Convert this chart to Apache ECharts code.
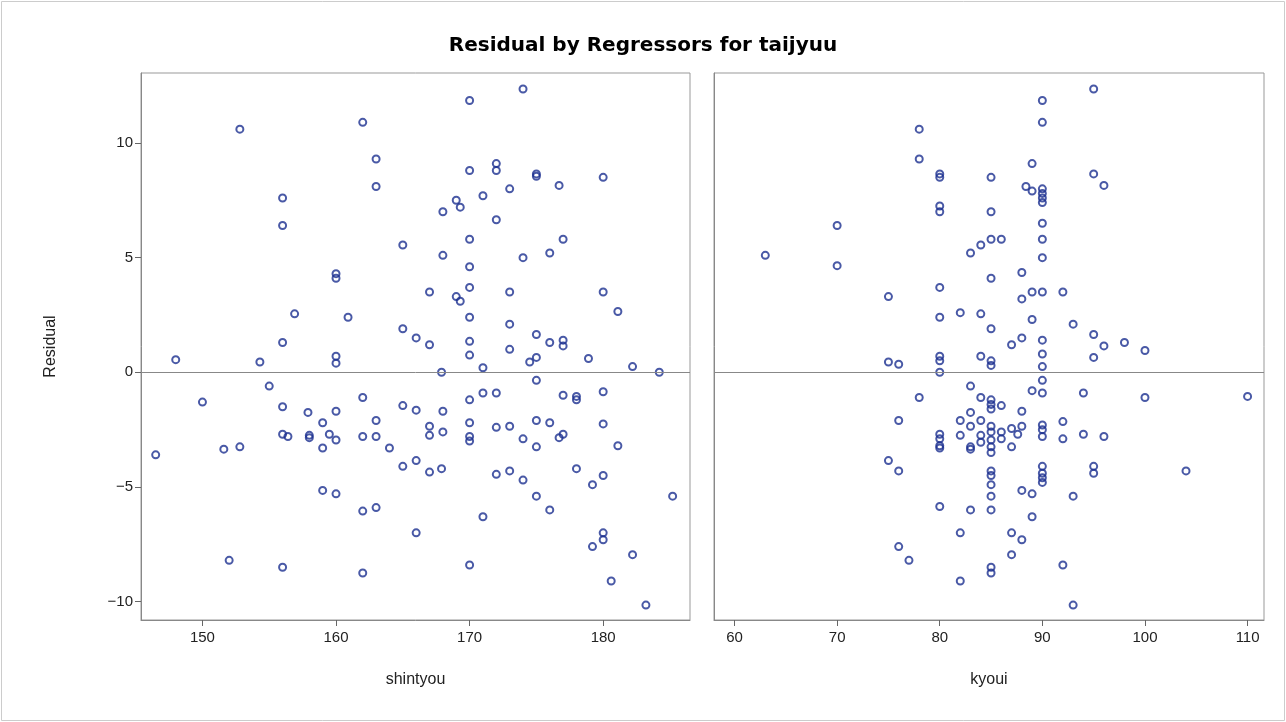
<!DOCTYPE html>
<html><head><meta charset="utf-8">
<script src="https://cdn.jsdelivr.net/npm/echarts@6/dist/echarts.min.js"></script>
<style>html,body{margin:0;padding:0;background:#fff}#c{width:1286px;height:722px}</style>
</head><body><div id="c"></div>
<script>
const xTicksLeft=[150,160,170,180];
const xTicksRight=[60,70,80,90,100,110];
const yTicks=[-10,-5,0,5,10];
const shintyou=[
[146.5,-3.6],[148,0.55],[150,-1.3],[151.6,-3.35],[152,-8.2],[152.8,-3.25],[152.8,10.6],[154.3,0.45],[155,-0.6],
[156,7.6],[156,6.4],[156,1.3],[156,-1.5],[156,-2.7],[156,-8.5],[156.4,-2.8],[156.9,2.55],[157.9,-1.75],[158,-2.75],[158,-2.85],
[159,-2.2],[159,-3.3],[159,-5.15],[159.5,-2.7],[160,4.3],[160,4.1],[160,0.7],[160,0.4],[160,-1.7],[160,-2.95],[160,-5.3],[160.9,2.4],
[162,10.9],[162,-1.1],[162,-2.8],[162,-6.05],[162,-8.75],[163,9.3],[163,8.1],[163,-2.1],[163,-2.8],[163,-5.9],[164,-3.3],
[165,1.9],[165,5.55],[165,-1.45],[165,-4.1],[166,1.5],[166,-1.65],[166,-3.85],[166,-7.0],
[167,3.5],[167,1.2],[167,-2.35],[167,-2.75],[167,-4.35],[167.9,-4.2],[167.9,0.0],[168,-2.6],[168,-1.7],[168,5.1],[168,7.0],
[169,7.5],[169.3,7.2],[169,3.3],[169.3,3.1],
[170,11.85],[170,8.8],[170,5.8],[170,4.6],[170,3.7],[170,2.4],[170,1.35],[170,0.75],[170,-1.2],[170,-2.2],[170,-2.8],[170,-3.0],[170,-8.4],
[171,0.2],[171,7.7],[171,-6.3],[171,-0.9],[172,6.65],[172,9.1],[172,8.8],[172,-0.9],[172,-2.4],[172,-4.45],
[173,8.0],[173,3.5],[173,2.1],[173,1.0],[173,-2.35],[173,-4.3],[174,12.35],[174,5.0],[174,-2.9],[174,-4.7],[174.5,0.45],
[175,8.65],[175,8.55],[175,1.65],[175,0.65],[175,-0.35],[175,-2.1],[175,-3.25],[175,-5.4],
[176,5.2],[176,1.3],[176,-2.2],[176,-6.0],[176.7,8.15],[176.7,-2.85],[177,5.8],[177,1.4],[177,1.15],[177,-2.7],[177,-1.0],
[178,-1.05],[178,-1.2],[178,-4.2],[178.9,0.6],[179.2,-4.9],[179.2,-7.6],
[180,8.5],[180,3.5],[180,-0.85],[180,-2.25],[180,-4.5],[180,-7.0],[180,-7.3],[180.6,-9.1],[181.1,2.65],[181.1,-3.2],
[182.2,0.25],[182.2,-7.95],[183.2,-10.15],[184.2,0.0],[185.2,-5.4]
];
const kyoui=[
[63,5.1],[70,6.4],[70,4.65],[75,3.3],[75,0.45],[75,-3.85],[76,0.35],[76,-2.1],[76,-4.3],[76,-7.6],[77,-8.2],
[78,10.6],[78,9.3],[78,-1.1],
[80,8.65],[80,8.5],[80,7.25],[80,7.0],[80,3.7],[80,2.4],[80,0.7],[80,0.5],[80,0],[80,-2.7],[80,-2.9],[80,-3.2],[80,-3.3],[80,-5.85],
[82,-9.1],[82,-7.0],[82,-2.75],[82,-2.1],[82,2.6],
[83,5.2],[83,-0.6],[83,-3.25],[83,-3.35],[83,-6.0],[83,-1.75],[83,-2.35],
[84,5.55],[84,2.55],[84,0.7],[84,-1.1],[84,-2.1],[84,-2.75],[84,-3.05],
[85,7.0],[85,8.5],[85,5.8],[85,4.1],[85,1.9],[85,0.5],[85,0.3],[85,-1.2],[85,-1.4],[85,-1.6],[85,-2.35],[85,-2.6],[85,-2.95],[85,-3.25],[85,-3.5],[85,-4.3],[85,-4.5],[85,-4.9],[85,-5.4],[85,-6.0],[85,-8.5],[85,-8.75],
[86,5.8],[86,-1.45],[86,-2.6],[86,-2.9],
[87,1.2],[87,-2.45],[87,-3.25],[87,-7.0],[87,-7.95],
[88,4.35],[88,3.2],[88,1.5],[88,-1.7],[88,-2.35],[88,-5.15],[88,-7.3],[87.6,-2.7],
[89,9.1],[89,2.3],[89,-0.8],[89,-5.3],[89,-6.3],[88.4,8.1],[89,7.9],[89,3.5],
[90,11.85],[90,10.9],[90,8.0],[90,7.8],[90,7.6],[90,7.4],[90,6.5],[90,5.8],[90,5.0],[90,3.5],[90,1.4],[90,0.8],[90,0.25],[90,-0.35],[90,-0.9],[90,-2.3],[90,-2.5],[90,-2.8],[90,-4.1],[90,-4.4],[90,-4.6],[90,-4.8],
[92,3.5],[92,-2.15],[92,-2.9],[92,-8.4],[93,2.1],[93,-5.4],[93,-10.15],[94,-0.9],[94,-2.7],
[95,12.35],[95,8.65],[95,1.65],[95,0.65],[95,-4.1],[95,-4.4],[96,8.15],[96,1.15],[96,-2.8],
[98,1.3],[100,0.95],[100,-1.1],[104,-4.3],[110,-1.05]
];
const fmt=v=>String(v).replace('-','\u2212');
const font='"Liberation Sans", Arial, sans-serif';
const axLab={color:'#222',fontSize:15,fontFamily:font};
const mk={type:'scatter',symbol:'circle',symbolSize:7,itemStyle:{color:'rgba(0,0,0,0)',borderColor:'#1c3090',borderWidth:2},
  markLine:{silent:true,symbol:'none',label:{show:false},lineStyle:{color:'#888',type:'solid',width:1},data:[{yAxis:0}]}};
const yBase={type:'value',min:-10.8,max:13.05,splitLine:{show:false},
  axisLine:{show:true,onZero:false,lineStyle:{color:'#888'}},
  axisTick:{show:true,length:6,lineStyle:{color:'#666'},customValues:yTicks}};
const xBase={type:'value',splitLine:{show:false},axisLine:{show:true,onZero:false,lineStyle:{color:'#888'}},
  nameLocation:'middle',nameGap:52,nameTextStyle:{color:'#222',fontSize:16,fontFamily:font}};
const chart=echarts.init(document.getElementById('c'));
chart.setOption({
  animation:false,
  title:{text:'Residual by Regressors for taijyuu',left:'center',top:31,textStyle:{fontSize:20,fontWeight:'bold',color:'#000',fontFamily:'"DejaVu Sans", sans-serif'}},
  graphic:[{type:'rect',shape:{x:1.5,y:1.5,width:1283,height:719},style:{fill:'none',stroke:'#ccc',lineWidth:1}},
    {type:'rect',shape:{x:141,y:73,width:549,height:547},style:{fill:'none',stroke:'#999',lineWidth:1}},
    {type:'rect',shape:{x:714,y:73,width:550,height:547},style:{fill:'none',stroke:'#999',lineWidth:1}}],
  grid:[{left:141,top:73,width:549,height:547},{left:714,top:73,width:550,height:547}],
  xAxis:[Object.assign({},xBase,{gridIndex:0,min:145.4,max:186.5,name:'shintyou',
      axisTick:{show:true,length:6,lineStyle:{color:'#666'},customValues:xTicksLeft},
      axisLabel:Object.assign({},axLab,{margin:10,customValues:xTicksLeft})}),
    Object.assign({},xBase,{gridIndex:1,min:58,max:111.6,name:'kyoui',
      axisTick:{show:true,length:6,lineStyle:{color:'#666'},customValues:xTicksRight},
      axisLabel:Object.assign({},axLab,{margin:10,customValues:xTicksRight})})],
  yAxis:[Object.assign({},yBase,{gridIndex:0,name:'Residual',nameLocation:'middle',nameGap:82,
      nameTextStyle:{color:'#222',fontSize:16,fontFamily:font},
      axisLabel:Object.assign({},axLab,{formatter:fmt,customValues:yTicks})}),
    Object.assign({},yBase,{gridIndex:1,axisLabel:{show:false},axisTick:{show:false}})],
  series:[Object.assign({},mk,{xAxisIndex:0,yAxisIndex:0,data:shintyou}),
    Object.assign({},mk,{xAxisIndex:1,yAxisIndex:1,data:kyoui})]
});
</script></body></html>
